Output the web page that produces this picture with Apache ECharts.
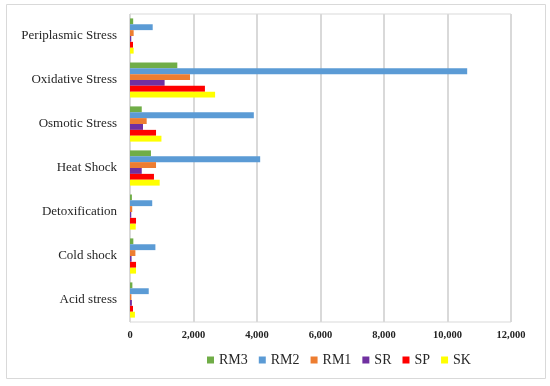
<!DOCTYPE html>
<html><head><meta charset="utf-8">
<script src="https://cdn.jsdelivr.net/npm/echarts@6/dist/echarts.min.js"></script>
<style>html,body{margin:0;padding:0;background:#fff}#c{width:550px;height:386px}</style>
</head><body><div id="c"></div>
<script>
const categories = ['Acid stress','Cold shock','Detoxification','Heat Shock','Osmotic Stress','Oxidative Stress','Periplasmic Stress'];
const RM3 = [75, 105, 60, 660, 370, 1490, 100];
const RM2 = [590, 800, 700, 4100, 3900, 10620, 715];
const RM1 = [45, 170, 70, 820, 525, 1890, 115];
const SR  = [60, 50, 40, 370, 410, 1090, 40];
const SP  = [95, 190, 190, 755, 820, 2360, 95];
const SK  = [155, 190, 180, 935, 990, 2680, 115];
const xTicks = [0, 2000, 4000, 6000, 8000, 10000, 12000];

const names = ['RM3','RM2','RM1','SR','SP','SK'];
const vals = {RM3, RM2, RM1, SR, SP, SK};
const colors = {RM3:'#70AD47', RM2:'#5B9BD5', RM1:'#ED7D31', SR:'#7030A0', SP:'#FF0000', SK:'#FFFF00'};

const chart = echarts.init(document.getElementById('c'));
chart.setOption({
  animation: false,
  textStyle: {fontFamily: 'Liberation Serif'},
  graphic: [{type:'rect', shape:{x:6.5, y:4.5, width:539, height:374}, style:{fill:'none', stroke:'#d9d9d9', lineWidth:1}, silent:true}],
  grid: {left:130, right:39, top:14, bottom:64, show:true, borderColor:'#d9d9d9', borderWidth:1},
  legend: {
    data: names, top: 353, left: 207, padding: 0, itemWidth: 7, itemHeight: 7, itemGap: 11,
    icon: 'rect',
    textStyle: {fontFamily:'Liberation Serif', fontSize:14, color:'#262626'}
  },
  xAxis: {
    type:'value', min: xTicks[0], max: xTicks[xTicks.length-1], interval: 2000,
    axisLine:{show:false}, axisTick:{show:false},
    splitLine:{lineStyle:{color:'#d9d9d9', width:2}},
    axisLabel:{fontFamily:'Liberation Serif', fontWeight:'bold', fontSize:10.5, color:'#222', margin:8,
      formatter: v => v.toLocaleString('en-US')}
  },
  yAxis: {
    type:'category', data: categories,
    axisLine:{show:true, lineStyle:{color:'#d9d9d9'}}, axisTick:{show:false},
    axisLabel:{fontFamily:'Liberation Serif', fontSize:13, color:'#262626', margin:13}
  },
  series: names.map(n => ({
    name:n, type:'bar', data: vals[n], barGap:'0%', barCategoryGap:'20%',
    itemStyle:{color: colors[n]}
  }))
});
</script></body></html>
